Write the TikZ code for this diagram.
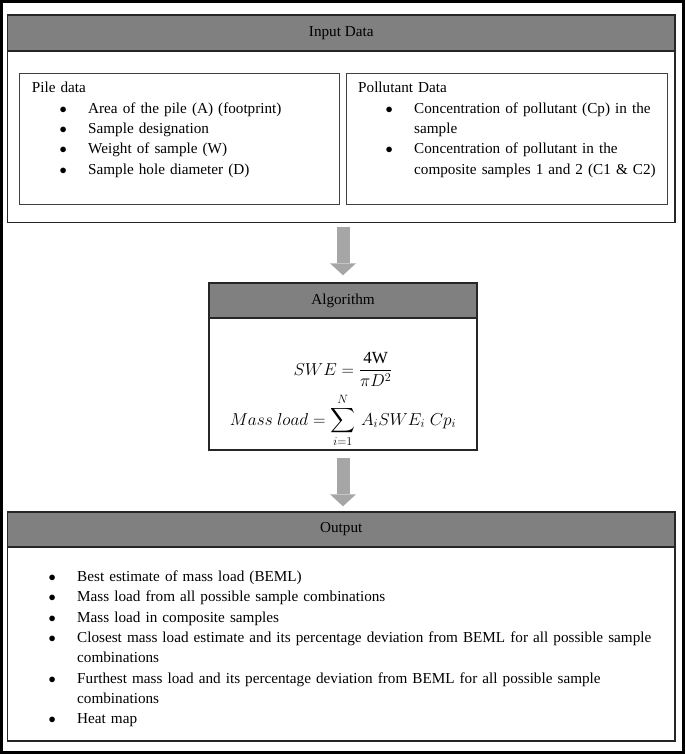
\documentclass[tikz,border=0pt]{standalone}
\usepackage{amsmath}
\usepackage{fontspec}
\setmainfont{Liberation Serif}
\usetikzlibrary{arrows.meta}
\tikzstyle{frame} = [draw=black!85, line width=1.4pt, inner sep=0pt]
\tikzstyle{head} = [draw=black!85, fill=gray, line width=1.4pt, inner sep=0pt, text centered]
\tikzstyle{sub} = [draw=black!75, line width=0.9pt, inner sep=0pt]
\tikzstyle{list} = [inner sep=0pt, anchor=base west, text width=640pt, align=left]
\tikzstyle{formula} = [inner sep=0pt, anchor=base, font=\fontsize{17}{20}\selectfont]
\tikzstyle{arrow} = [draw=gray!70, line width=13pt, -{Triangle[width=26pt,length=12pt,line width=0pt]}]
\newcommand{\bitem}[2]{\hspace*{#1}\makebox[0pt]{$\bullet$}\hspace*{#2}}

\begin{document}
\begin{tikzpicture}[x=1pt,y=-1pt,font=\fontsize{15.2}{20.3}\selectfont]

\useasboundingbox (0,0) rectangle (685,754);
\node (page) [draw=black, line width=3pt, minimum width=682pt, minimum height=751pt, inner sep=0pt] at (342.5,377) {};

% input data
\node (input) [frame, minimum width=667.5pt, minimum height=207.7pt] at (341.25,118.85) {};
\node (inhead) [head, minimum width=667.5pt, minimum height=36pt, anchor=north] at (input.north) {Input Data};
\node (pile) [sub, minimum width=320pt, minimum height=131pt, anchor=north west] at (19,73) {};
\node (pollut) [sub, minimum width=321pt, minimum height=131pt, anchor=north west] at (346,73) {};
\node (piletext) [list] at (31.7,93) {Pile data\\
\bitem{31.3pt}{25pt}Area of the pile (A) (footprint)\\
\bitem{31.3pt}{25pt}Sample designation\\
\bitem{31.3pt}{25pt}Weight of sample (W)\\
\bitem{31.3pt}{25pt}Sample hole diameter (D)};
\node (pollutext) [list] at (358,93) {Pollutant Data\\
\bitem{31pt}{25pt}Concentration of pollutant (Cp) in the\\
\hspace*{56pt}sample\\
\bitem{31pt}{25pt}Concentration of pollutant in the\\
\hspace*{56pt}composite samples 1 and 2 (C1 \& C2)};

% algorithm
\node (alg) [frame, minimum width=268pt, minimum height=167pt] at (343,366.5) {};
\node (alghead) [head, minimum width=268pt, minimum height=35pt, anchor=north] at (alg.north) {Algorithm};
\node (swe) [formula] at (343,375) {$\displaystyle SWE = \frac{\mathrm{4W}}{\pi D^2}$};
\node (mass) [formula] at (343,425) {$\displaystyle Mass\ load = \sum_{i=1}^{N}\, A_i SWE_i\; Cp_i$};

% output
\node (output) [frame, minimum width=667.5pt, minimum height=229pt] at (341.25,626.5) {};
\node (outhead) [head, minimum width=667.5pt, minimum height=35pt, anchor=north] at (output.north) {Output};
\node (outtext) [list] at (40,581.5) {\bitem{12pt}{25pt}Best estimate of mass load (BEML)\\
\bitem{12pt}{25pt}Mass load from all possible sample combinations\\
\bitem{12pt}{25pt}Mass load in composite samples\\
\bitem{12pt}{25pt}Closest mass load estimate and its percentage deviation from BEML for all possible sample\\
\hspace*{37pt}combinations\\
\bitem{12pt}{25pt}Furthest mass load and its percentage deviation from BEML for all possible sample\\
\hspace*{37pt}combinations\\
\bitem{12pt}{25pt}Heat map};

\draw [arrow, shorten <=3.5pt, shorten >=7pt] (alg.north |- input.south) -- (alg.north);
\draw [arrow, shorten <=7pt, shorten >=5pt] (alg.south) -- (alg.south |- output.north);

\end{tikzpicture}
\end{document}
